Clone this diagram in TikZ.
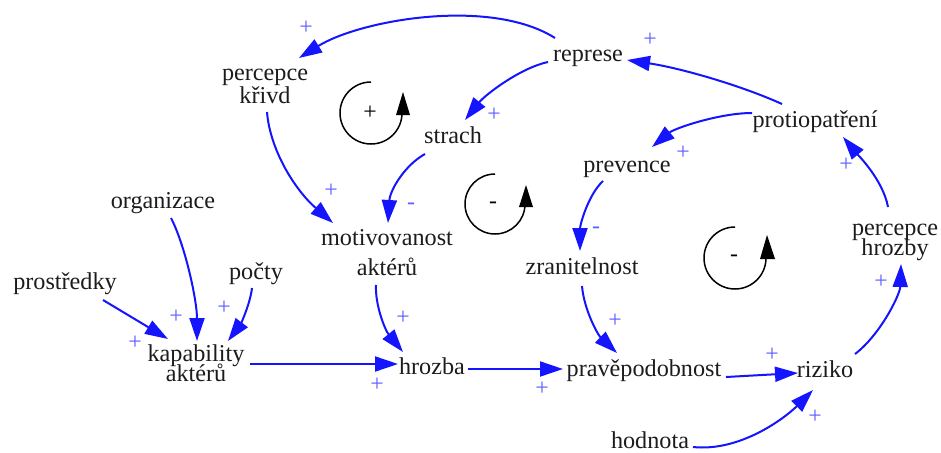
\documentclass[tikz,border=0pt]{standalone}
\usepackage{fontspec}
\setmainfont{Liberation Serif}
\usetikzlibrary{arrows.meta}
\definecolor{arrblue}{RGB}{20,20,255}
\definecolor{signblue}{RGB}{95,95,255}
\definecolor{txt}{RGB}{28,28,28}
\newcommand{\mytopstrut}{\rule{0pt}{22pt}}
\newcommand{\mybotstrut}{\rule[-22pt]{0pt}{22pt}}
\newcommand{\twoline}[3]{\vbox{\baselineskip=#1pt\lineskiplimit=-100pt\lineskip=0pt\halign{\hfil##\hfil\cr\mytopstrut #2\cr #3\mybotstrut\cr}}}
\begin{document}
\begin{tikzpicture}[x=1pt,y=-1pt,
  lbl/.style={font=\fontsize{24.2}{26}\selectfont, text=txt, inner sep=0pt},
  conn/.style={draw=arrblue, line width=2pt, -{Triangle[length=23pt,width=15pt]}},
  sgn/.style={font=\fontsize{23.8}{26}\selectfont, text=signblue, inner sep=0pt},
  loopsym/.style={font=\fontsize{23.8}{26}\selectfont, text=black, inner sep=0pt},
  looparc/.style={draw=black, line width=1.5pt}]
\useasboundingbox (0,0) rectangle (941,452);

% variables
\node[lbl] (krivd) at (265,91.5) {\twoline{23}{percepce}{křivd}};
\node[lbl, anchor=base] (represe) at (588,62) {represe};
\node[lbl, anchor=base] (strach) at (453,143) {strach};
\node[lbl, anchor=base] (protiop) at (815,127) {protiopatření};
\node[lbl, anchor=base] (prevence) at (627,172) {prevence};
\node[lbl, anchor=base] (organizace) at (163,208) {organizace};
\node[lbl] (motiv) at (387,260) {\twoline{30}{motivovanost}{aktérů}};
\node[lbl, anchor=base] (pocty) at (256,279) {počty};
\node[lbl, anchor=base] (prostredky) at (65,289) {prostředky};
\node[lbl, anchor=base] (zranit) at (582,274) {zranitelnost};
\node[lbl] (hrozby) at (895,245) {\twoline{20}{percepce}{hrozby}};
\node[lbl] (kapab) at (196,371) {\twoline{20}{kapability}{aktérů}};
\node[lbl, anchor=base] (hrozba) at (432,374) {hrozba};
\node[lbl, anchor=base] (pravdep) at (644,376) {pravěpodobnost};
\node[lbl, anchor=base] (riziko) at (825,377) {riziko};
\node[lbl, anchor=base] (hodnota) at (650,448) {hodnota};

% connectors
\draw[conn] ([shift={(-33,-24)}]represe.base) .. controls (490,-3) and (360,20) .. ([shift={(34,-33.5)}]krivd.center);
\draw[conn] ([shift={(-40,0)}]represe.base) .. controls (520,68) and (485,95) .. ([shift={(12,-23)}]strach.base);
\draw[conn] ([shift={(-33,-23)}]protiop.base) .. controls (740,85) and (680,68) .. ([shift={(39,-2)}]represe.base);
\draw[conn] ([shift={(-63,-14)}]protiop.base) .. controls (720,113) and (675,128) .. ([shift={(25,-25)}]prevence.base);
\draw[conn] ([shift={(-7,-38)}]hrozby.center) .. controls (883,180) and (858,155) .. ([shift={(28,10)}]protiop.base);
\draw[conn] ([shift={(30,-23)}]riziko.base) .. controls (880,335) and (900,295) .. ([shift={(6,19)}]hrozby.center);
\draw[conn] ([shift={(-24,9)}]prevence.base) .. controls (588,195) and (580,225) .. ([shift={(-2,-23)}]zranit.base);
\draw[conn] ([shift={(0,12)}]zranit.base) .. controls (584,310) and (598,335) .. ([shift={(-27,-23)}]pravdep.base);
\draw[conn] ([shift={(36,-5)}]hrozba.base) -- ([shift={(-81,-7)}]pravdep.base);
\draw[conn] ([shift={(82,1)}]pravdep.base) -- ([shift={(-27,-4)}]riziko.base);
\draw[conn] ([shift={(43,-1)}]hodnota.base) .. controls (740,452) and (785,418) .. ([shift={(-12,13)}]riziko.base);
\draw[conn] ([shift={(54,-7)}]kapab.center) -- ([shift={(-34,-10)}]hrozba.base);
\draw[conn] ([shift={(-11,25)}]motiv.center) .. controls (375,305) and (385,330) .. ([shift={(-29,-22)}]hrozba.base);
\draw[conn] ([shift={(2,20.5)}]krivd.center) .. controls (270,150) and (295,190) .. ([shift={(-54,-37)}]motiv.center);
\draw[conn] ([shift={(-28,11)}]strach.base) .. controls (405,165) and (390,190) .. ([shift={(1,-37)}]motiv.center);
\draw[conn] ([shift={(8,10)}]organizace.base) .. controls (185,245) and (197,300) .. ([shift={(1,-30)}]kapab.center);
\draw[conn] ([shift={(-4,9)}]pocty.base) .. controls (250,305) and (240,325) .. ([shift={(32,-30)}]kapab.center);
\draw[conn] ([shift={(38,11)}]prostredky.base) -- ([shift={(-28,-32)}]kapab.center);

% polarity signs
\node[sgn] (p1) at (306,28) {+};
\node[sgn] (p2) at (494,115) {+};
\node[sgn] (p3) at (650,40) {+};
\node[sgn] (p4) at (683,153) {+};
\node[sgn] (p5) at (846,165) {+};
\node[sgn] (p6) at (881,282) {+};
\node[sgn] (m1) at (596,230) {-};
\node[sgn] (p7) at (615,321) {+};
\node[sgn] (p8) at (542,389) {+};
\node[sgn] (p9) at (772,355) {+};
\node[sgn] (p10) at (815,417) {+};
\node[sgn] (p11) at (377,385) {+};
\node[sgn] (p12) at (403,318) {+};
\node[sgn] (p13) at (331,191) {+};
\node[sgn] (m2) at (411,206) {-};
\node[sgn] (p14) at (176,317) {+};
\node[sgn] (p15) at (224,308) {+};
\node[sgn] (p16) at (135,343) {+};

% loop markers
\draw[looparc] (371,82) arc[start angle=-90, end angle=-360, radius=31];
\fill[black] (396,115) -- (410,115) -- (403,92) -- cycle;
\node[loopsym] (l1) at (370,113) {+};

\draw[looparc] (495,174) arc[start angle=-90, end angle=-360, radius=30];
\fill[black] (519,207) -- (533,207) -- (526,185) -- cycle;
\node[loopsym] (l2) at (493,205) {-};

\draw[looparc] (735,227) arc[start angle=-90, end angle=-360, radius=31];
\fill[black] (760,259) -- (775,259) -- (767,235) -- cycle;
\node[loopsym] (l3) at (734,258) {-};
\end{tikzpicture}
\end{document}
